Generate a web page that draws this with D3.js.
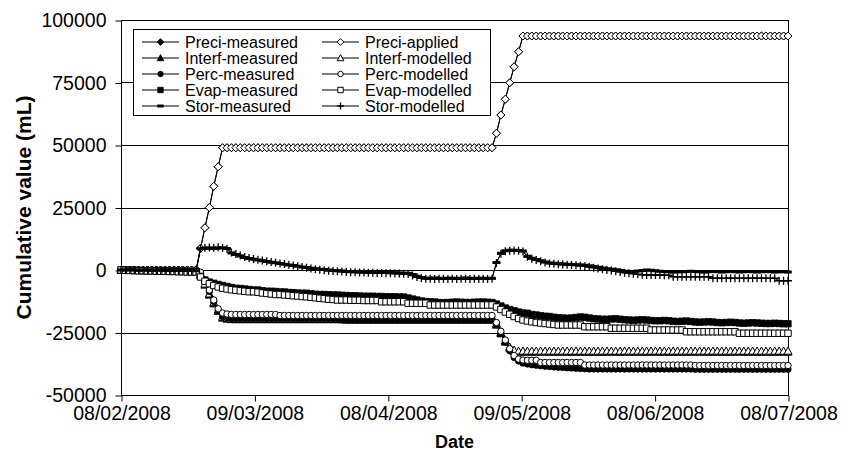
<!DOCTYPE html>
<html>
<head>
<meta charset="utf-8">
<script src="https://cdn.jsdelivr.net/npm/d3@7/dist/d3.min.js"></script>
<style>
  body { margin: 0; background: #fff; }
  svg { display: block; }
  text { font-family: "Liberation Sans", Arial, Helvetica, sans-serif; fill: #000; }
</style>
</head>
<body>
<svg id="chart" width="851" height="456"></svg>
<script>
// Daily cumulative water balance components (mL), first day 08/02/2008.
const firstDay = Date.UTC(2008, 1, 8);
const lastDay = Date.UTC(2008, 6, 8);
const xTickLabels = ["08/02/2008", "09/03/2008", "08/04/2008", "09/05/2008", "08/06/2008", "08/07/2008"];
const yTickValues = [-50000, -25000, 0, 25000, 50000, 75000, 100000];

const preciMeasured = [
  0,0,0,0,0,0,0,0,0,0,
  0,0,0,0,0,0,0,0,8700,16900,
  25000,33500,41300,48900,48900,48900,48900,48900,48900,48900,
  48900,48900,48900,48900,48900,48900,48900,48900,48900,48900,
  48900,48900,48900,48900,48900,48900,48900,48900,48900,48900,
  48900,48900,48900,48900,48900,48900,48900,48900,48900,48900,
  48900,48900,48900,48900,48900,48900,48900,48900,48900,48900,
  48900,48900,48900,48900,48900,48900,48900,48900,48900,48900,
  48900,48900,48900,48900,48900,54700,62000,68300,74900,81300,
  87300,93600,93600,93600,93600,93600,93600,93600,93600,93600,
  93600,93600,93600,93600,93600,93600,93600,93600,93600,93600,
  93600,93600,93600,93600,93600,93600,93600,93600,93600,93600,
  93600,93600,93600,93600,93600,93600,93600,93600,93600,93600,
  93600,93600,93600,93600,93600,93600,93600,93600,93600,93600,
  93600,93600,93600,93600,93600,93600,93600,93600,93600,93600,
  93600,93600
];
const preciApplied = [
  0,0,0,0,0,0,0,0,0,0,
  0,0,0,0,0,0,0,0,8700,16900,
  25000,33500,41300,48900,48900,48900,48900,48900,48900,48900,
  48900,48900,48900,48900,48900,48900,48900,48900,48900,48900,
  48900,48900,48900,48900,48900,48900,48900,48900,48900,48900,
  48900,48900,48900,48900,48900,48900,48900,48900,48900,48900,
  48900,48900,48900,48900,48900,48900,48900,48900,48900,48900,
  48900,48900,48900,48900,48900,48900,48900,48900,48900,48900,
  48900,48900,48900,48900,48900,54700,62000,68300,74900,81300,
  87300,93600,93600,93600,93600,93600,93600,93600,93600,93600,
  93600,93600,93600,93600,93600,93600,93600,93600,93600,93600,
  93600,93600,93600,93600,93600,93600,93600,93600,93600,93600,
  93600,93600,93600,93600,93600,93600,93600,93600,93600,93600,
  93600,93600,93600,93600,93600,93600,93600,93600,93600,93600,
  93600,93600,93600,93600,93600,93600,93600,93600,93600,93600,
  93600,93600
];
const interfMeasured = [
  0,0,0,0,0,0,0,0,0,0,
  0,0,0,0,0,0,0,0,-2000,-6000,
  -10000,-13500,-16500,-19200,-19600,-19800,-19800,-19800,-19800,-19800,
  -19800,-19800,-19800,-19800,-19800,-19800,-19800,-19800,-19800,-19800,
  -19800,-19800,-19800,-19800,-19800,-19800,-19800,-19800,-19800,-19800,
  -19900,-20000,-20000,-20000,-20000,-20000,-20000,-20000,-20000,-20000,
  -20000,-20000,-20000,-20000,-20000,-20000,-20000,-20000,-20000,-20000,
  -20000,-20000,-20000,-20000,-20000,-20000,-20000,-20000,-20000,-20000,
  -20000,-20000,-20000,-20000,-20000,-22000,-25500,-28800,-31200,-32500,
  -32800,-32800,-32800,-32800,-32800,-32800,-32800,-32800,-32800,-32800,
  -32800,-32800,-32800,-32800,-32800,-32800,-32800,-32800,-32800,-32800,
  -32800,-32800,-32800,-32800,-32800,-32800,-32800,-32800,-32800,-32800,
  -32800,-32800,-32800,-32800,-32800,-32800,-32800,-32800,-32800,-32800,
  -32800,-32800,-32800,-32800,-32800,-32800,-32800,-32800,-32800,-32800,
  -32800,-32800,-32800,-32800,-32800,-32800,-32800,-32800,-32800,-32800,
  -32800,-32800
];
const interfModelled = [
  0,0,0,0,0,0,0,0,0,0,
  0,0,0,0,0,0,0,0,-1800,-5600,
  -9500,-13000,-16000,-18800,-19300,-19500,-19500,-19500,-19500,-19500,
  -19500,-19500,-19500,-19500,-19500,-19500,-19500,-19500,-19500,-19500,
  -19500,-19500,-19500,-19500,-19500,-19500,-19500,-19500,-19500,-19500,
  -19500,-19500,-19500,-19500,-19500,-19500,-19500,-19500,-19500,-19500,
  -19500,-19500,-19500,-19500,-19500,-19500,-19500,-19500,-19500,-19500,
  -19500,-19500,-19500,-19500,-19500,-19500,-19500,-19500,-19500,-19500,
  -19500,-19500,-19500,-19500,-19500,-21500,-25000,-28300,-30800,-32000,
  -32400,-32400,-32400,-32400,-32400,-32400,-32400,-32400,-32400,-32400,
  -32400,-32400,-32400,-32400,-32400,-32400,-32400,-32400,-32400,-32400,
  -32400,-32400,-32400,-32400,-32400,-32400,-32400,-32400,-32400,-32400,
  -32400,-32400,-32400,-32400,-32400,-32400,-32400,-32400,-32400,-32400,
  -32400,-32400,-32400,-32400,-32400,-32400,-32400,-32400,-32400,-32400,
  -32400,-32400,-32400,-32400,-32400,-32400,-32400,-32400,-32400,-32400,
  -32400,-32400
];
const percMeasured = [
  0,0,0,0,0,0,0,0,0,0,
  0,0,0,0,0,0,0,0,-1200,-4600,
  -8600,-12600,-16200,-18600,-19200,-19400,-19400,-19400,-19400,-19400,
  -19400,-19400,-19400,-19400,-19400,-19400,-19400,-19400,-19400,-19400,
  -19400,-19400,-19400,-19400,-19400,-19400,-19400,-19400,-19400,-19400,
  -19500,-19600,-19600,-19600,-19600,-19600,-19600,-19600,-19600,-19600,
  -19600,-19600,-19600,-19600,-19600,-19600,-19600,-19600,-19600,-19600,
  -19600,-19600,-19600,-19600,-19600,-19600,-19600,-19600,-19600,-19600,
  -19600,-19600,-19600,-19600,-19600,-21800,-25200,-28800,-32300,-35000,
  -36400,-37200,-37600,-37900,-38100,-38300,-38500,-38600,-38800,-38900,
  -39000,-39100,-39200,-39300,-39400,-39500,-39600,-39600,-39600,-39600,
  -39600,-39600,-39600,-39600,-39600,-39600,-39600,-39600,-39600,-39600,
  -39600,-39600,-39600,-39600,-39600,-39600,-39600,-39600,-39600,-39600,
  -39700,-39700,-39700,-39700,-39700,-39700,-39700,-39700,-39700,-39700,
  -39700,-39700,-39700,-39700,-39700,-39700,-39700,-39700,-39700,-39700,
  -39700,-39700
];
const percModelled = [
  0,0,0,0,0,0,0,0,0,0,
  0,0,0,0,0,0,0,0,-900,-4000,
  -8000,-12000,-15500,-17200,-17600,-17800,-17800,-17800,-17800,-17800,
  -17800,-17800,-17800,-17800,-17800,-17800,-18200,-18200,-18200,-18200,
  -18200,-18200,-18200,-18200,-18200,-18200,-18200,-18200,-18200,-18200,
  -18200,-18200,-18200,-18200,-18200,-18200,-18200,-18200,-18200,-18200,
  -18200,-18200,-18200,-18200,-18200,-18200,-18200,-18200,-18200,-18200,
  -18200,-18200,-18200,-18200,-18200,-18200,-18200,-18200,-18200,-18200,
  -18200,-18200,-18200,-18200,-18200,-21000,-24500,-28000,-31500,-34200,
  -35600,-36000,-36100,-36100,-36100,-37000,-37000,-37000,-37000,-37000,
  -37000,-37000,-37000,-37000,-37000,-38000,-38000,-38000,-38000,-38000,
  -38000,-38000,-38000,-38000,-38000,-38000,-38000,-38000,-38000,-38000,
  -38000,-38000,-38000,-38000,-38000,-38000,-38000,-38000,-38000,-38000,
  -38200,-38200,-38200,-38200,-38200,-38200,-38200,-38200,-38200,-38200,
  -38200,-38200,-38200,-38200,-38200,-38200,-38200,-38200,-38200,-38200,
  -38200,-38200
];
const evapMeasured = [
  0,-100,-100,-200,-200,-300,-300,-300,-400,-400,
  -400,-500,-500,-500,-600,-600,-700,-700,-2500,-4000,
  -4800,-5300,-5800,-6200,-6600,-7000,-7300,-7400,-7600,-7800,
  -8000,-8000,-8300,-8500,-8500,-8600,-8800,-8800,-9000,-9100,
  -9200,-9300,-9300,-9500,-9700,-9800,-9800,-9900,-10000,-10000,
  -10100,-10200,-10300,-10300,-10400,-10500,-10500,-10500,-10600,-10600,
  -10700,-10700,-10700,-10800,-10800,-11200,-11600,-12000,-12400,-12600,
  -12700,-12800,-13000,-13100,-13000,-12900,-12800,-12900,-13000,-13000,
  -12900,-12800,-12800,-12900,-13000,-13600,-14400,-15200,-15800,-16300,
  -16800,-17200,-17300,-17800,-18000,-18300,-18500,-18600,-18900,-19100,
  -19200,-19300,-19200,-19000,-18800,-18900,-19200,-19500,-19600,-19700,
  -19700,-19600,-19500,-19700,-19900,-20000,-20100,-20000,-19900,-20000,
  -20200,-20300,-20300,-20200,-20300,-20500,-20600,-20500,-20400,-20600,
  -20800,-20900,-20800,-20700,-20800,-21000,-21100,-21000,-20900,-21000,
  -21200,-21300,-21200,-21100,-21200,-21300,-21400,-21400,-21300,-21400,
  -21500,-21500
];
const evapModelled = [
  0,-100,-200,-200,-300,-300,-400,-400,-500,-500,
  -500,-600,-600,-700,-700,-800,-800,-800,-2800,-4500,
  -5500,-6200,-6800,-7300,-7600,-7900,-8100,-8300,-8500,-8700,
  -8700,-8900,-9200,-9400,-9600,-9800,-9800,-10000,-10100,-10300,
  -10400,-10600,-10700,-10900,-11100,-11300,-11500,-11700,-11800,-12000,
  -12000,-12000,-12100,-12100,-12100,-12200,-12200,-12200,-12200,-12700,
  -12700,-12700,-12700,-12700,-12700,-13300,-13300,-13300,-13300,-13300,
  -14000,-14000,-14000,-14000,-14000,-14000,-14000,-14000,-14000,-14000,
  -14000,-14000,-14000,-14000,-14000,-14800,-15800,-16800,-17700,-18600,
  -19400,-20000,-20400,-20700,-21000,-21200,-21400,-21600,-21800,-22000,
  -22000,-22000,-22000,-22000,-22000,-22700,-22700,-22700,-22700,-22700,
  -22700,-23300,-23300,-23300,-23300,-23300,-23300,-23300,-23300,-23300,
  -24000,-24000,-24000,-24000,-24000,-24000,-24000,-24000,-24700,-24700,
  -24700,-24700,-24700,-24700,-24700,-24700,-24700,-24700,-24700,-24700,
  -25300,-25300,-25300,-25300,-25300,-25300,-25300,-25300,-25300,-25300,
  -25300,-25300
];
const storMeasured = [
  0,0,100,0,-100,0,0,-100,-100,0,
  -100,-200,-100,-200,-200,-100,-200,-300,8500,8700,
  8800,8600,8800,8900,8600,6800,6200,5600,5000,4600,
  4300,4000,3700,3400,3100,2900,2600,2300,2000,1800,
  1500,1200,1000,700,500,300,200,0,-200,-300,
  -400,-600,-700,-700,-800,-800,-900,-900,-1000,-1000,
  -1000,-1100,-1100,-1200,-1300,-1300,-1800,-2500,-3000,-3300,
  -3300,-3200,-3300,-3400,-3300,-3300,-3400,-3300,-3200,-3300,
  -3400,-3300,-3300,-3400,-3300,3000,6700,7700,7900,7900,
  7800,7600,5500,4700,4200,3700,3200,2800,2700,2500,
  2400,2300,2200,2100,2000,1900,1700,1400,1100,800,
  500,300,100,-200,-500,-700,-600,-400,-200,0,
  -100,-300,-500,-600,-700,-800,-700,-700,-600,-500,
  -600,-700,-800,-700,-600,-700,-800,-700,-600,-700,
  -800,-700,-600,-700,-800,-700,-600,-700,-800,-700,
  -700,-800
];
const storModelled = [
  0,-100,0,-100,-200,-100,-200,-200,-300,-200,
  -300,-300,-400,-300,-400,-400,-500,-500,8600,8900,
  9000,8900,9100,8800,8500,7000,6400,5800,5200,4800,
  4400,4100,3800,3500,3200,2900,2600,2400,2100,1800,
  1500,1200,900,600,300,100,-100,-300,-400,-500,
  -600,-800,-900,-900,-1000,-1000,-1100,-1100,-1200,-1200,
  -1300,-1300,-1400,-1400,-1500,-1600,-2200,-2800,-3300,-3500,
  -3500,-3600,-3500,-3500,-3600,-3500,-3600,-3500,-3500,-3600,
  -3500,-3600,-3500,-3600,-3500,2800,6500,7500,7700,7800,
  7700,7400,5300,4500,4000,3500,3000,2600,2500,2300,
  2200,2100,2000,1900,1700,1500,1200,900,600,300,
  0,-200,-500,-800,-1100,-1300,-1500,-1700,-1900,-2000,
  -2000,-2000,-2000,-2100,-2100,-2700,-2700,-2700,-2700,-2700,
  -2700,-2700,-2700,-2700,-3300,-3300,-3300,-3300,-3300,-3300,
  -3300,-3300,-3300,-3300,-3300,-3300,-3300,-3300,-3300,-4300,
  -4300,-4300
];

// Series in drawing / legend order, with their marker styles.
const series = [
  { name: "Preci-measured", values: preciMeasured, shape: "diamond", open: false },
  { name: "Preci-applied",  values: preciApplied,  shape: "diamond", open: true },
  { name: "Interf-measured", values: interfMeasured, shape: "triangle", open: false },
  { name: "Interf-modelled", values: interfModelled, shape: "triangle", open: true },
  { name: "Perc-measured", values: percMeasured, shape: "circle", open: false },
  { name: "Perc-modelled", values: percModelled, shape: "circle", open: true },
  { name: "Evap-measured", values: evapMeasured, shape: "square", open: false },
  { name: "Evap-modelled", values: evapModelled, shape: "square", open: true },
  { name: "Stor-measured", values: storMeasured, shape: "dash", open: false },
  { name: "Stor-modelled", values: storModelled, shape: "plus", open: false }
];

const margin = { left: 121, right: 788, top: 20, bottom: 395 };
const svg = d3.select("#chart");

const x = d3.scaleUtc().domain([firstDay, lastDay]).range([margin.left, margin.right]);
const y = d3.scaleLinear().domain([-50000, 100000]).range([margin.bottom, margin.top]);

const dayDate = i => d3.utcDay.offset(new Date(firstDay), i);
const xTickDates = xTickLabels.map((_, i) => new Date(firstDay + i * (lastDay - firstDay) / (xTickLabels.length - 1)));

// Marker shapes
const markerPath = {
  diamond: r => `M0,${-r}L${r},0L0,${r}L${-r},0Z`,
  triangle: r => `M0,${-r}L${r},${r * 0.8}L${-r},${r * 0.8}Z`,
  circle: r => d3.symbol(d3.symbolCircle, Math.PI * r * r)(),
  square: r => `M${-r},${-r}H${r}V${r}H${-r}Z`,
  dash: r => `M${-r},0H${r}`,
  plus: r => `M${-r},0H${r}M0,${-r}V${r}`
};
const markerSize = { diamond: 4, triangle: 4, circle: 3.2, square: 3.2, dash: 3.8, plus: 4 };

function styleMarker(sel, s) {
  if (s.shape === "dash") {
    sel.attr("fill", "none").attr("stroke", "#000").attr("stroke-width", 3);
  } else if (s.shape === "plus") {
    sel.attr("fill", "none").attr("stroke", "#000").attr("stroke-width", 1.3);
  } else if (s.open) {
    sel.attr("fill", "#fff").attr("stroke", "#000").attr("stroke-width", 1);
  } else {
    sel.attr("fill", "#000").attr("stroke", "#000").attr("stroke-width", 0.8);
  }
}

// Gridlines
svg.append("g")
  .selectAll("line")
  .data(yTickValues.filter(v => v > -50000 && v < 100000))
  .join("line")
  .attr("x1", margin.left).attr("x2", margin.right)
  .attr("y1", d => Math.round(y(d)) + 0.5).attr("y2", d => Math.round(y(d)) + 0.5)
  .attr("stroke", "#000").attr("stroke-width", 1);

// Plot border
svg.append("rect")
  .attr("x", margin.left + 0.5).attr("y", margin.top + 0.5)
  .attr("width", margin.right - margin.left).attr("height", margin.bottom - margin.top)
  .attr("fill", "none").attr("stroke", "#000").attr("stroke-width", 1);

// Axes
const yAxis = svg.append("g")
  .attr("transform", `translate(${margin.left + 0.5},0.5)`)
  .call(d3.axisLeft(y).tickValues(yTickValues).tickFormat(d => String(d)).tickSize(6).tickSizeOuter(0).tickPadding(9));
yAxis.select(".domain").remove();
yAxis.selectAll("text").attr("font-size", 19.5).attr("font-family", null);
yAxis.selectAll("line").attr("stroke", "#000");

const xAxis = svg.append("g")
  .attr("transform", `translate(0.5,${margin.bottom + 0.5})`)
  .call(d3.axisBottom(x).tickValues(xTickDates).tickFormat((d, i) => xTickLabels[i]).tickSize(6).tickSizeOuter(0).tickPadding(5));
xAxis.select(".domain").remove();
xAxis.selectAll("text").attr("font-size", 19.5).attr("font-family", null);
xAxis.selectAll("line").attr("stroke", "#000");

// Axis titles
svg.append("text")
  .attr("x", (margin.left + margin.right) / 2).attr("y", 448)
  .attr("text-anchor", "middle").attr("font-size", 18).attr("font-weight", "bold")
  .text("Date");
svg.append("text")
  .attr("transform", `translate(31,${(margin.top + margin.bottom) / 2}) rotate(-90)`)
  .attr("text-anchor", "middle").attr("font-size", 21).attr("font-weight", "bold")
  .text("Cumulative value (mL)");

// Series
const line = d3.line().x((d, i) => x(dayDate(i))).y(d => y(d));
const plot = svg.append("g");
series.forEach(s => {
  const g = plot.append("g");
  g.append("path").datum(s.values).attr("d", line)
    .attr("fill", "none").attr("stroke", "#000").attr("stroke-width", 1);
  g.selectAll("path.m").data(s.values).join("path").attr("class", "m")
    .attr("transform", (d, i) => `translate(${x(dayDate(i))},${y(d)})`)
    .attr("d", markerPath[s.shape](markerSize[s.shape]))
    .call(styleMarker, s);
});

// Legend
const legend = svg.append("g");
legend.append("rect")
  .attr("x", 133.5).attr("y", 29.5).attr("width", 357).attr("height", 86)
  .attr("fill", "#fff").attr("stroke", "#000").attr("stroke-width", 1);
const rowY = [42, 58, 74, 90, 106];
const colX = [142, 322];
series.forEach((s, k) => {
  const col = k % 2, row = Math.floor(k / 2);
  const lx = colX[col], ly = rowY[row];
  const item = legend.append("g");
  item.append("line").attr("x1", lx).attr("x2", lx + 37).attr("y1", ly).attr("y2", ly)
    .attr("stroke", "#000").attr("stroke-width", 1);
  item.append("path").attr("transform", `translate(${lx + 18.5},${ly})`)
    .attr("d", markerPath[s.shape](markerSize[s.shape] * 0.85))
    .call(styleMarker, s);
  item.append("text").attr("x", lx + 43).attr("y", ly + 5.5).attr("font-size", 16).text(s.name);
});
</script>
</body>
</html>
